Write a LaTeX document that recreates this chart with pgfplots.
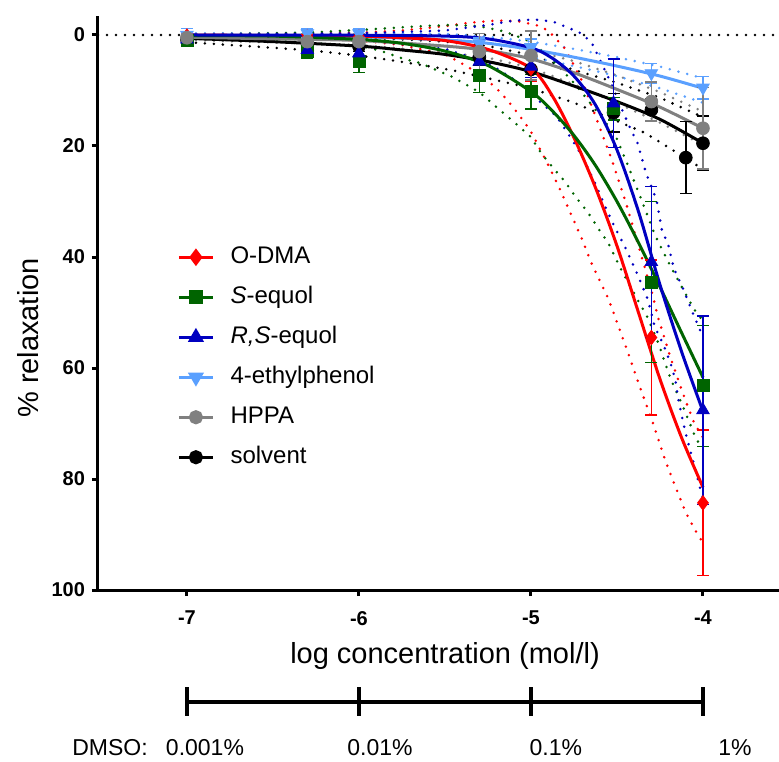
\documentclass[border=0pt]{standalone}
\usepackage{pgfplots}
\pgfplotsset{compat=1.18}
\usepackage{fontspec}
\setmainfont{Liberation Sans}
\definecolor{cRed}{RGB}{255,0,0}
\definecolor{cGreen}{RGB}{0,100,0}
\definecolor{cBlue}{RGB}{0,0,192}
\definecolor{cLBlue}{RGB}{90,160,255}
\definecolor{cGray}{RGB}{128,128,128}
\pgfplotsset{
 band/.style={line width=1.4pt, dash pattern=on 0pt off 4.5pt, line cap=round, no markers, forget plot},
 fit/.style={line width=1.5pt, no markers, smooth, forget plot},
 dat/.style={only marks, mark size=3.2pt, forget plot,
   error bars/y dir=both, error bars/y explicit,
   error bars/error mark=-,
   error bars/error bar style={line width=0.75pt, color=#1, solid},
   error bars/error mark options={rotate=90, line width=0.75pt, mark size=3pt, color=#1, solid}},
}
\begin{document}
\begin{tikzpicture}
\useasboundingbox (-49pt,-85.5pt) rectangle (340.5pt,295pt);
\begin{axis}[
 at={(0,0)}, anchor=south west,
 scale only axis, width=340.5pt, height=287pt,
 xmin=-7.517, xmax=-3.558, ymin=-3.42, ymax=100, y dir=reverse,
 axis x line*=bottom, axis y line*=left,
 axis line style={line width=1.5pt},
 xtick={-7,-6,-5,-4}, xticklabels={-7,-6,-5,-4},
 ytick={0,20,40,60,80,100}, yticklabels={0,20,40,60,80,100},
 tick align=outside, major tick length=3pt,
 every tick/.style={line width=1.5pt, black},
 tick label style={font=\fontsize{10}{12}\selectfont\bfseries},
 xticklabel style={yshift=-4pt},
 clip=false,
 legend cell align=left,
 legend style={at={(axis cs:-7.058,37.9)}, anchor=north west, draw=none, fill=none,
   inner sep=0pt, column sep=8pt, row sep=8.5pt,
   nodes={inner sep=0pt, text height=9pt, text depth=2.5pt},
   font=\fontsize{12}{14}\selectfont},
]
% zero line
\addplot[band, black] coordinates {(-7.517,0) (-3.558,0)};
% ---------- confidence bands ----------
% solvent
\addplot[band, black] coordinates {(-7,1.3)(-6.5,2.3)(-6.27,2.8)(-6,3.7)(-5.8,4.6)(-5.6,5.6)(-5.45,6.4)(-5.25,7.8)(-5,9.6)(-4.75,12.2)(-4.5,15.5)(-4.34,17.6)(-4.25,19.3)(-4.05,23.2)(-4,24.2)};
\addplot[band, black] coordinates {(-7,-0.1)(-6.5,0.1)(-6,0.4)(-5.5,1.2)(-5.25,2.0)(-5,3.6)(-4.75,6.3)(-4.5,8.6)(-4.25,11.3)(-4,14.8)};
% HPPA
\addplot[band, cGray] coordinates {(-7,0.9)(-6,1.8)(-5.5,3.1)(-5.25,4.1)(-5,5.9)(-4.75,8.9)(-4.5,12.3)(-4.25,15.8)(-4,19.8)};
\addplot[band, cGray] coordinates {(-7,-0.1)(-6,0.2)(-5.5,0.9)(-5.25,1.5)(-5,2.7)(-4.75,4.7)(-4.5,7.3)(-4.25,10.3)(-4,13.8)};
% 4-ethylphenol
\addplot[band, cLBlue] coordinates {(-7,0.3)(-6,0.9)(-5.5,1.9)(-5.25,2.7)(-5,4.0)(-4.75,5.6)(-4.5,7.4)(-4.25,9.6)(-4,12.2)};
\addplot[band, cLBlue] coordinates {(-7,-0.3)(-6,-0.4)(-5.5,-0.2)(-5.25,0.3)(-5,1.2)(-4.75,2.5)(-4.5,4.0)(-4.25,5.7)(-4,7.8)};
% O-DMA
\addplot[band, cRed] coordinates {(-7,0.3)(-6.5,0.5)(-6,1)(-5.75,1.8)(-5.5,3.5)(-5.42,4.8)(-5.3,7)(-5.2,9.6)(-5.13,12)(-5.06,14.8)(-5,17.4)(-4.9,23.4)(-4.83,27.9)(-4.76,32.8)(-4.7,37)(-4.65,41)(-4.55,47.5)(-4.45,56)(-4.36,64)(-4.29,70)(-4.22,76.6)(-4.16,81.4)(-4.1,86)(-4.05,89)(-4,91.5)};
\addplot[band, cRed] coordinates {(-7,-0.1)(-6.5,-0.2)(-6,-0.4)(-5.75,-0.8)(-5.5,-1.6)(-5.36,-2.2)(-5.2,-2.6)(-5.08,-2.5)(-4.97,-1.8)(-4.9,-0.8)(-4.8,2.5)(-4.7,8.5)(-4.62,15)(-4.53,22.5)(-4.45,30)(-4.37,38.5)(-4.3,46)(-4.26,51)(-4.19,58)(-4.13,63.4)(-4.09,66.8)(-4.05,70)(-4,72.5)};
% S-equol
\addplot[band, cGreen] coordinates {(-7,0.4)(-6.5,1.0)(-6.2,1.6)(-5.95,2.2)(-5.84,3.2)(-5.75,4.2)(-5.65,5.0)(-5.55,6.3)(-5.46,7.5)(-5.3,10.3)(-5.2,13)(-5.08,16.2)(-5,18.4)(-4.94,21.3)(-4.87,24)(-4.8,26.5)(-4.74,29.2)(-4.67,31.9)(-4.61,34.8)(-4.55,37.5)(-4.48,42)(-4.38,47.7)(-4.32,51)(-4.26,55.5)(-4.19,61.8)(-4.12,66.7)(-4.08,69.7)(-4.04,72.8)(-4,74.5)};
\addplot[band, cGreen] coordinates {(-7,-0.1)(-6.5,-0.3)(-6.25,-0.5)(-6,-0.9)(-5.63,-1.6)(-5.47,-1.8)(-5.3,-1.6)(-5.15,-0.6)(-5,1.2)(-4.9,3.8)(-4.82,6.3)(-4.74,9)(-4.67,11.7)(-4.51,18)(-4.43,24)(-4.36,29.5)(-4.28,36)(-4.2,41)(-4.13,45)(-4.05,49.5)(-4,51.5)};
% R,S-equol
\addplot[band, cBlue] coordinates {(-7,0.2)(-6.5,0.4)(-6,0.8)(-5.5,2.5)(-5.25,5)(-5.1,8)(-5,10.5)(-4.92,12.8)(-4.85,14.7)(-4.76,18.9)(-4.7,22)(-4.63,26.5)(-4.56,31.5)(-4.51,34.8)(-4.45,38.4)(-4.38,43.2)(-4.32,47.7)(-4.28,52.6)(-4.23,55.8)(-4.19,59)(-4.16,62.2)(-4.145,65.4)(-4.122,68.8)(-4.099,72)(-4.07,75.3)(-4.041,78.6)(-4.017,81.6)(-4,83.3)};
\addplot[band, cBlue] coordinates {(-7,-0.1)(-6,-0.3)(-5.5,-0.8)(-5.25,-1.8)(-5.1,-2.6)(-4.98,-2.8)(-4.87,-2.4)(-4.8,-1.5)(-4.72,-0.5)(-4.65,1.2)(-4.58,5.7)(-4.53,9)(-4.47,13.5)(-4.42,17)(-4.38,19.5)(-4.33,25)(-4.27,29.7)(-4.24,35)(-4.2,38)(-4.17,42)(-4.12,45.4)(-4.06,50)(-4.02,53)(-4,54)};
% ---------- fitted curves ----------
\addplot[fit, black] coordinates {(-7,0.6)(-6.5,1.2)(-6,2.0)(-5.75,2.7)(-5.5,3.5)(-5.25,4.8)(-5,6.6)(-4.75,9.2)(-4.5,12.0)(-4.25,15.2)(-4,19.5)};
\addplot[fit, cGray] coordinates {(-7,0.4)(-6.5,0.7)(-6,1.0)(-5.5,2.0)(-5.25,2.8)(-5,4.3)(-4.75,6.8)(-4.5,9.8)(-4.25,13)(-4,16.8)};
\addplot[fit, cLBlue] coordinates {(-7,0)(-6.5,0.1)(-6,0.3)(-5.5,0.9)(-5.25,1.5)(-5,2.6)(-4.75,4.0)(-4.5,5.6)(-4.25,7.4)(-4,9.6)};
\addplot[fit, cRed] coordinates {(-7,0)(-6.5,0.1)(-6,0.2)(-5.75,0.5)(-5.5,1.0)(-5.25,2.6)(-5,6)(-4.875,11)(-4.75,18.5)(-4.625,27.5)(-4.5,38)(-4.375,50)(-4.25,62)(-4.125,72.5)(-4,81.5)};
\addplot[fit, cGreen] coordinates {(-7,0.1)(-6.5,0.2)(-6,0.8)(-5.75,1.5)(-5.5,2.9)(-5.25,5.5)(-5,10.2)(-4.875,13.7)(-4.75,18.1)(-4.625,23.5)(-4.5,30)(-4.375,37.4)(-4.25,45.4)(-4.125,53.6)(-4,61.7)};
\addplot[fit, cBlue] coordinates {(-7,0)(-6,0.05)(-5.5,0.2)(-5.25,0.7)(-5,2.3)(-4.875,4.2)(-4.75,7.4)(-4.625,12.6)(-4.5,20.7)(-4.375,31.8)(-4.25,45)(-4.125,57)(-4,67.8)};
% ---------- data points ----------
\addplot[dat=black, black, mark=*] coordinates {(-7,0.8) +- (0,0.5) (-6.3,1.5) +- (0,0.8) (-6,2) +- (0,1) (-5.3,4) +- (0,1.5) (-5,6.2) +- (0,2) (-4.52,14.0) +- (0,3.5) (-4.3,13.5) +- (0,2.1) (-4.1,22.1) +- (0,6.5) (-4,19.5) +- (0,4.9)};
\addplot[dat=cRed, cRed, mark=diamond*, mark size=3.6pt] coordinates {(-7,0.2) +- (0,0.5) (-6.3,0.3) +- (0,0.5) (-6,0.3) +- (0,0.6) (-5.3,2.5) +- (0,1.5) (-5,6.0) +- (0,2.3) (-4.3,54.5) +- (0,14) (-4,84.3) +- (0,13.1)};
\addplot[dat=cGreen, cGreen, mark=square*, mark size=3pt] coordinates {(-7,1.0) +- (0,0.8) (-6.3,3.0) +- (0,1.2) (-6,4.8) +- (0,2.0) (-5.3,7.2) +- (0,3.2) (-5,10.2) +- (0,3.1) (-4.52,13.3) +- (0,2) (-4.3,44.5) +- (0,14.5) (-4,63.2) +- (0,10.9)};
\addplot[dat=cBlue, cBlue, mark=triangle*, mark size=3.6pt] coordinates {(-7,0.8) +- (0,0.5) (-6.3,2.7) +- (0,1) (-6,3.3) +- (0,1) (-5.3,4.8) +- (0,1.5) (-5,5.7) +- (0,2) (-4.52,12.3) +- (0,8) (-4.3,40.9) +- (0,13.6) (-4,67.6) +- (0,17)};
\addplot[dat=cLBlue, cLBlue, mark=triangle*, mark size=3.6pt, mark options={rotate=180}] coordinates {(-7,0) +- (0,1.2) (-6.3,-0.3) +- (0,0.8) (-6,-0.3) +- (0,0.8) (-5.3,1.5) +- (0,1.0) (-5,2.2) +- (0,1.5) (-4.3,6.9) +- (0,1.8) (-4,9.5) +- (0,2.0)};
\addplot[dat=cGray, cGray, mark=*] coordinates {(-7,0.5) +- (0,1) (-6.3,1.2) +- (0,1.5) (-6,1.2) +- (0,1.5) (-5.3,3.0) +- (0,3.3) (-5,3.7) +- (0,4.4) (-4.3,12.0) +- (0,3.5) (-4,16.8) +- (0,7.3)};
% ---------- legend ----------
\addlegendimage{cRed, line width=1.5pt, mark=diamond*, mark size=3.2pt}
\addlegendentry{O-DMA}
\addlegendimage{cGreen, line width=1.5pt, mark=square*, mark size=2.7pt}
\addlegendentry{\textit{S}-equol}
\addlegendimage{cBlue, line width=1.5pt, mark=triangle*, mark size=3.2pt}
\addlegendentry{\textit{R,S}-equol}
\addlegendimage{cLBlue, line width=1.5pt, mark=triangle*, mark size=3.2pt, mark options={rotate=180}}
\addlegendentry{4-ethylphenol}
\addlegendimage{cGray, line width=1.5pt, mark=*, mark size=2.8pt}
\addlegendentry{HPPA}
\addlegendimage{black, line width=1.5pt, mark=*, mark size=2.8pt}
\addlegendentry{solvent}
% ---------- DMSO scale ----------
\draw[line width=2pt] (axis cs:-7,120.2) -- (axis cs:-4,120.2);
\draw[line width=2pt] (axis cs:-7,117.5) -- (axis cs:-7,122.7);
\draw[line width=2pt] (axis cs:-6,117.5) -- (axis cs:-6,122.7);
\draw[line width=2pt] (axis cs:-5,117.5) -- (axis cs:-5,122.7);
\draw[line width=2pt] (axis cs:-4,117.5) -- (axis cs:-4,122.7);
\node[anchor=base west, font=\fontsize{11.5}{13}\selectfont, inner sep=0pt] at (axis cs:-7.669,129.8) {DMSO:};
\node[anchor=base, font=\fontsize{11.5}{13}\selectfont, inner sep=0pt] at (axis cs:-6.895,129.8) {0.001\%};
\node[anchor=base, font=\fontsize{11.5}{13}\selectfont, inner sep=0pt] at (axis cs:-5.878,129.8) {0.01\%};
\node[anchor=base, font=\fontsize{11.5}{13}\selectfont, inner sep=0pt] at (axis cs:-4.855,129.8) {0.1\%};
\node[anchor=base, font=\fontsize{11.5}{13}\selectfont, inner sep=0pt] at (axis cs:-3.814,129.8) {1\%};
\end{axis}
\node[font=\fontsize{14.5}{16}\selectfont] at (173.5pt,-33pt) {log concentration (mol/l)};
\node[font=\fontsize{14.5}{16}\selectfont, rotate=90] at (-35pt,126pt) {\% relaxation};
\end{tikzpicture}
\end{document}
